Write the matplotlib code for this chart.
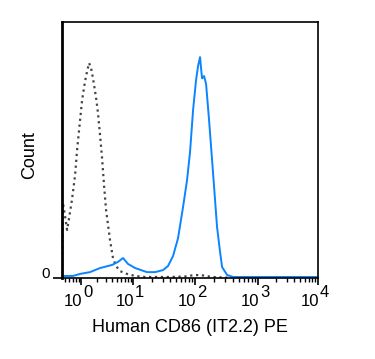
import matplotlib
matplotlib.use("Agg")
import matplotlib.pyplot as plt
import matplotlib.transforms as mtransforms
from matplotlib.ticker import LogLocator, NullFormatter
import numpy as np

plt.rcParams['font.family'] = ['Liberation Sans', 'DejaVu Sans']

# CD86 PE stained cells (blue)
cd86_x = [0.45, 0.70, 0.96, 1.49, 2.32, 3.95, 5.15, 6.42, 8.01, 10.8, 16.8, 22.7,
          30.5, 36.7, 44.2, 53.2, 64, 74.3, 83, 92.9, 103.7, 111.6, 120, 124.5, 129.1,
          139, 149.6, 166.8, 193, 223.4, 249.3, 268.3, 322, 401, 747, 5010, 10000]
cd86_y = [0.8, 0.8, 1.6, 2.3, 3.9, 5.1, 6.3, 7.8, 5.5, 3.9, 2.3, 2.3,
          3.1, 4.7, 8.6, 15.6, 27.7, 38.3, 49.2, 65.6, 77.3, 82.8, 86.3, 82, 78,
          78.9, 75.8, 61.7, 41, 19.9, 10.2, 4.3, 1.2, 0.4, 0.4, 0.4, 0.4]

# isotype control (dotted)
iso_x = [0.432, 0.45, 0.49, 0.54, 0.59, 0.67, 0.77, 0.84, 0.96, 1.05, 1.19, 1.30,
         1.43, 1.56, 1.70, 1.94, 2.12, 2.32, 2.53, 2.77, 3.03, 3.61, 4.12, 4.71,
         5.62, 7.67, 10.8, 15.6, 39.5, 69, 100, 134, 186, 360, 10000]
iso_y = [0, 29.3, 24.6, 18.8, 23.4, 30.5, 40.2, 50, 61.7, 69.5, 76.6, 80.5,
         84, 82, 78, 70.7, 64.5, 55.9, 47.3, 36.3, 26.6, 14.8, 7.8, 4.7,
         2.7, 1.6, 0.8, 0.4, 0.4, 0.6, 1.2, 1.0, 0.4, 0.1, 0.1]

decades = [1, 10, 100, 1000, 10000]
exponents = ['0', '1', '2', '3', '4']

# display scale: cytometer-style log axis, decades not quite equal
scale_logs = [-3, 0, 1, 2, 3, 4, 7]
scale_pos = [-75, 81, 133, 195, 258, 318, 498]


def fwd(x):
    x = np.maximum(np.asarray(x, dtype=float), 1e-12)
    return np.interp(np.log10(x), scale_logs, scale_pos)


def inv(y):
    return 10 ** np.interp(np.asarray(y, dtype=float), scale_pos, scale_logs)


fig = plt.figure(figsize=(3.75, 3.59), dpi=100)
ax = fig.add_axes([0.1653, 0.2256, 0.683, 0.713])

ax.plot(iso_x, iso_y, color='#444444', linestyle=':', linewidth=1.6)
ax.plot(cd86_x, cd86_y, color='#0a84ff', linewidth=1.4)

ax.set_xscale('function', functions=(fwd, inv))
ax.set_xlim(0.431, 10000)
ax.set_ylim(0, 100)

ax.xaxis.set_major_locator(LogLocator(base=10, numticks=10))
ax.xaxis.set_minor_locator(LogLocator(base=10, subs=range(2, 10), numticks=20))
ax.xaxis.set_major_formatter(NullFormatter())
ax.xaxis.set_minor_formatter(NullFormatter())
ax.tick_params(axis='x', which='major', length=5, width=1.2, direction='out')
ax.tick_params(axis='x', which='minor', length=3, width=1.0, direction='out')

ax.set_yticks([0])
ax.set_yticklabels(['0'], fontsize=11, va='baseline')
ax.tick_params(axis='y', length=6.5, width=1.2, pad=2)

for side in ['top', 'right', 'bottom']:
    ax.spines[side].set_linewidth(1.2)
ax.spines['left'].set_linewidth(2)

trans = ax.get_xaxis_transform()
for v, e in zip(decades, exponents):
    t1 = mtransforms.offset_copy(trans, fig=fig, x=1, y=-23, units='dots')
    ax.text(v, 0, '10', transform=t1, ha='right', va='center', fontsize=12)
    t2 = mtransforms.offset_copy(trans, fig=fig, x=2, y=-14, units='dots')
    ax.text(v, 0, e, transform=t2, ha='left', va='center', fontsize=12)

ax.set_xlabel('Human CD86 (IT2.2) PE', fontsize=13)
ax.xaxis.label.set_va('center')
ax.xaxis.set_label_coords(0.5, -0.195)
ax.set_ylabel('Count', fontsize=13)
ax.yaxis.label.set_va('center')
ax.yaxis.set_label_coords(-0.125, 0.48)

fig.savefig('out.png', dpi=100)
